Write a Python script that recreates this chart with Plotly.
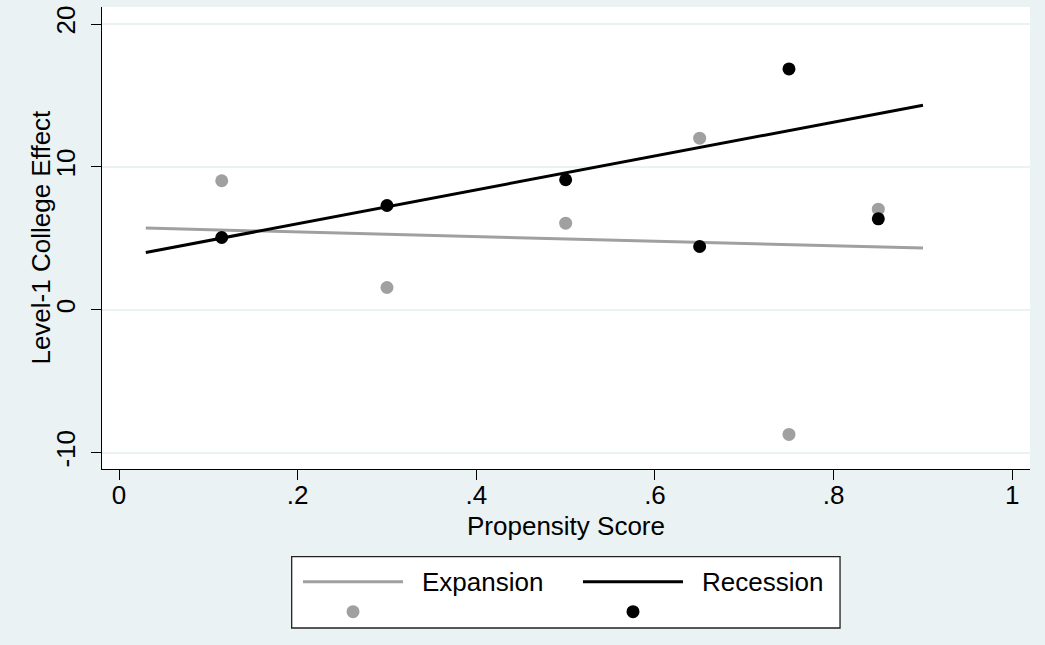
import plotly.graph_objects as go

# ---- data ----
pscore = [0.115, 0.30, 0.50, 0.65, 0.75, 0.85]
expansion = [9.03, 1.56, 6.06, 12.01, -8.72, 7.04]
recession = [5.06, 7.30, 9.10, 4.43, 16.86, 6.37]
fit_x = [0.03, 0.90]
expansion_fit = [5.72, 4.32]
recession_fit = [4.01, 14.32]
x_ticks = [0, 0.2, 0.4, 0.6, 0.8, 1.0]
x_ticklabels = ["0", ".2", ".4", ".6", ".8", "1"]
y_ticks = [-10, 0, 10, 20]
y_ticklabels = ["-10", "0", "10", "20"]
series_names = ["Expansion", "Recession"]
x_title = "Propensity Score"
y_title = "Level-1 College Effect"

GRAY = "#A0A0A0"
BLACK = "#000000"
BG = "#EAF2F3"
FONT = "Liberation Sans, Arial, sans-serif"

fig = go.Figure()
fig.add_trace(go.Scatter(x=fit_x, y=expansion_fit, mode="lines",
                         line=dict(color=GRAY, width=3), name=series_names[0],
                         showlegend=False))
fig.add_trace(go.Scatter(x=fit_x, y=recession_fit, mode="lines",
                         line=dict(color=BLACK, width=3), name=series_names[1],
                         showlegend=False))
fig.add_trace(go.Scatter(x=pscore, y=expansion, mode="markers",
                         marker=dict(color=GRAY, size=13), name=series_names[0] + " points",
                         showlegend=False))
fig.add_trace(go.Scatter(x=pscore, y=recession, mode="markers",
                         marker=dict(color=BLACK, size=13), name=series_names[1] + " points",
                         showlegend=False))

# ---- manual Stata-style legend (paper coordinates) ----
shapes = [
    dict(type="rect", xref="paper", yref="paper", x0=0.2044, x1=0.7953,
         y0=-0.3442, y1=-0.1898, line=dict(color="#222222", width=1.3),
         fillcolor="white", layer="above"),
    dict(type="line", xref="paper", yref="paper", x0=0.2166, x1=0.3244,
         y0=-0.2439, y1=-0.2439, line=dict(color=GRAY, width=3)),
    dict(type="line", xref="paper", yref="paper", x0=0.5183, x1=0.6261,
         y0=-0.2439, y1=-0.2439, line=dict(color=BLACK, width=3)),
    dict(type="circle", xref="paper", yref="paper", xsizemode="pixel", ysizemode="pixel",
         xanchor=0.2705, yanchor=-0.3089, x0=-6.5, x1=6.5, y0=-6.5, y1=6.5,
         fillcolor=GRAY, line=dict(width=0)),
    dict(type="circle", xref="paper", yref="paper", xsizemode="pixel", ysizemode="pixel",
         xanchor=0.5722, yanchor=-0.3089, x0=-6.5, x1=6.5, y0=-6.5, y1=6.5,
         fillcolor=BLACK, line=dict(width=0)),
]
annotations = [
    dict(text=series_names[0], xref="paper", yref="paper", x=0.3427, y=-0.2446,
         xanchor="left", yanchor="middle", showarrow=False,
         font=dict(family=FONT, size=26, color="black")),
    dict(text=series_names[1], xref="paper", yref="paper", x=0.6444, y=-0.2446,
         xanchor="left", yanchor="middle", showarrow=False,
         font=dict(family=FONT, size=26, color="black")),
    # axis titles
    dict(text=x_title, xref="paper", yref="paper", x=0.5, y=-0.1234,
         xanchor="center", yanchor="middle", showarrow=False,
         font=dict(family=FONT, size=26, color="black")),
    dict(text=y_title, xref="paper", yref="paper", x=-0.0652, y=0.502,
         xanchor="center", yanchor="middle", textangle=-90, showarrow=False,
         font=dict(family=FONT, size=26, color="black")),
]

fig.update_layout(
    width=1045, height=645,
    margin=dict(l=102, r=15, t=7, b=176),
    paper_bgcolor=BG, plot_bgcolor="white",
    font=dict(family=FONT, size=26, color="black"),
    shapes=shapes, annotations=annotations,
    showlegend=False,
)
fig.update_xaxes(
    range=[-0.01903, 1.0198], tickvals=x_ticks, ticktext=x_ticklabels,
    ticks="outside", ticklen=10, tickwidth=1.2, tickcolor="black",
    showline=True, linecolor="black", linewidth=1.2, mirror=False,
    showgrid=False, zeroline=False, ticklabelstandoff=-7,
    tickfont=dict(size=26),
)
fig.update_yaxes(
    range=[-11.14, 21.19], tickvals=y_ticks, ticktext=y_ticklabels, tickangle=-90,
    ticks="outside", ticklen=10, tickwidth=1.2, tickcolor="black",
    showline=True, linecolor="black", linewidth=1.2, ticklabelstandoff=6,
    showgrid=True, gridcolor=BG, gridwidth=1.5, zeroline=False,
    tickfont=dict(size=26),
)

fig.write_html("out.html", config={"displayModeBar": False},
               post_script="document.body.style.margin='0';")
